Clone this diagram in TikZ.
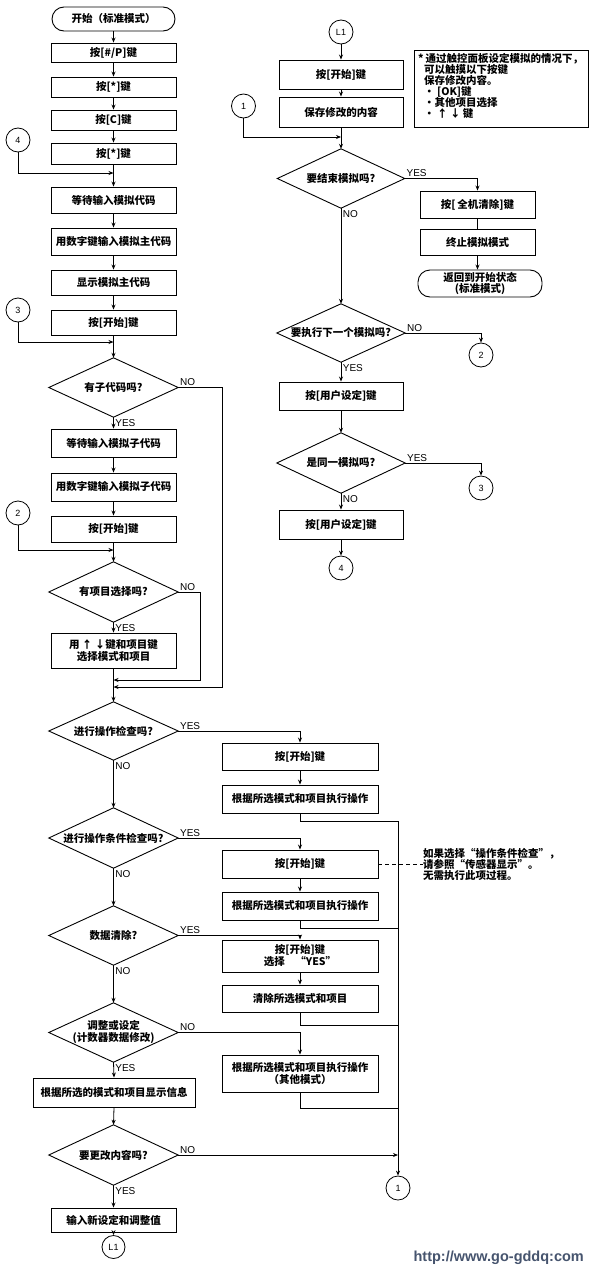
\documentclass[tikz,border=0pt]{standalone}
\usepackage{fontspec}
\newfontfamily\cjk{Noto Sans CJK SC}
\newfontfamily\lat{Liberation Sans}
\usetikzlibrary{arrows.meta,calc}
\definecolor{wmcol}{RGB}{70,84,110}
\newcommand\drawdia[1]{\draw[line width=0.9pt] (#1.north) -- (#1.east) -- (#1.south) -- (#1.west) -- cycle;}
\tikzset{
  ln/.style={line width=0.8pt},
  arr/.style={ln, -{Stealth[length=5pt,width=4pt]}},
  cjkfont/.style={font=\cjk\bfseries\fontsize{10.5}{12}\selectfont},
  box/.style={draw, line width=0.9pt, rectangle, minimum width=125pt, inner sep=1pt, align=center, cjkfont},
  rbox/.style={box, minimum width=156pt},
  term/.style={box, rounded corners=12pt},
  dia/.style={rectangle, minimum width=129pt, minimum height=59pt, inner sep=0pt, align=center, cjkfont},
  circ/.style={draw, circle, line width=0.8pt, minimum size=24pt, inner sep=0pt, font=\lat\fontsize{9}{10}\selectfont},
  lab/.style={font=\lat\fontsize{10}{10}\selectfont, inner sep=1.5pt},
  notetext/.style={align=left, inner sep=0pt, font=\cjk\bfseries\fontsize{10.5}{11}\selectfont},
}
\begin{document}
\begin{tikzpicture}[x=1pt,y=-1pt]
\useasboundingbox (0,0) rectangle (590,1274);
\fill[white] (0,0) rectangle (590,1274);

% ---------------- left column ----------------
\node[term, minimum width=123pt, minimum height=24pt] (start) at (113.5,19) {开始（标准模式）};
\node[box, minimum height=19pt] (b1) at (113.5,52.5) {按[\#/P]键};
\node[box, minimum height=20pt] (b2) at (113.5,87) {按[*]键};
\node[box, minimum height=20pt] (b3) at (113.5,120) {按[C]键};
\node[box, minimum height=21pt] (b4) at (113.5,153.5) {按[*]键};
\node[circ] (c4L) at (18,140) {4};
\coordinate (j4) at (113.5,173);
\node[box, minimum height=26pt] (b5) at (113.5,200) {等待输入模拟代码};
\node[box, minimum height=27pt] (b6) at (113.5,241.5) {用数字键输入模拟主代码};
\node[box, minimum height=25pt] (b7) at (113.5,282.5) {显示模拟主代码};
\node[circ] (c3L) at (18,310) {3};
\node[box, minimum height=25pt] (b8) at (113.5,322.5) {按[开始]键};
\coordinate (j3) at (113.5,342);
\node[dia] (d1) at (113.5,387.5) {有子代码吗?};
\node[box, minimum height=28pt] (b9) at (113.5,443) {等待输入模拟子代码};
\node[box, minimum height=28pt] (b10) at (113.5,487) {用数字键输入模拟子代码};
\node[circ] (c2L) at (18,513) {2};
\node[box, minimum height=26pt] (b11) at (113.5,529) {按[开始]键};
\coordinate (j2) at (113.5,550);
\node[dia, minimum height=60pt] (d2) at (113.5,592) {有项目选择吗?};
\node[box, minimum height=35pt] (b12) at (113.5,650.5) {用 ↑ ↓键和项目键\\选择模式和项目};
\coordinate (m680) at (113.5,680);
\coordinate (m687) at (113.5,687);
\coordinate (k1) at (222,687);
\coordinate (k2) at (200,680);
\node[dia, minimum height=58pt] (d3) at (113.5,731) {进行操作检查吗?};
\node[dia, minimum height=60pt] (d4) at (113.5,838) {进行操作条件检查吗?};
\node[dia] (d5) at (113.5,935.5) {数据清除?};
\node[dia] (d6) at (113.5,1032.5) {调整或设定\\(计数器数据修改)};
\node[box, minimum width=162pt, minimum height=29pt] (b13) at (114,1092.5) {根据所选的模式和项目显示信息};
\node[dia, minimum height=60pt] (d7) at (113.5,1155) {要更改内容吗?};
\node[box, minimum height=24pt] (b14) at (113.5,1220) {输入新设定和调整值};
\node[circ, minimum size=23pt] (L1b) at (113.5,1247) {L1};

\foreach \d in {d1,d2,d3,d4,d5,d6,d7} {\drawdia{\d}}

% ---------------- right operation column ----------------
\node[rbox, minimum height=27pt] (r1) at (300,756.5) {按[开始]键};
\node[rbox, minimum height=28pt] (r2) at (300,799) {根据所选模式和项目执行操作};
\node[rbox, minimum height=28pt] (r3) at (300,864) {按[开始]键};
\node[rbox, minimum height=28pt] (r4) at (300,906) {根据所选模式和项目执行操作};
\node[rbox, minimum height=32pt] (r5) at (300,956) {按[开始]键\\选择\quad“YES”};
\node[rbox, minimum height=27pt] (r6) at (300,998.5) {清除所选模式和项目};
\node[rbox, minimum height=37pt] (r7) at (300,1073.5) {根据所选模式和项目执行操作\\（其他模式）};
\node[circ] (c1B) at (398,1188) {1};
\coordinate (f1) at (398,821);
\coordinate (f2) at (398,928);
\coordinate (f3) at (398,1025);
\coordinate (f4) at (398,1108);
\coordinate (f5) at (398,1155);
\node[notetext, anchor=west] (note2) at (423,864) {如果选择“操作条件检查”，\\请参照“传感器显示”。\\无需执行此项过程。};

% ---------------- right top column ----------------
\node[circ] (L1t) at (341,32) {L1};
\node[box, minimum width=124pt, minimum height=29pt] (t1) at (341,74.5) {按[开始]键};
\node[box, minimum width=124pt, minimum height=30pt] (t2) at (341,112) {保存修改的内容};
\node[circ] (c1T) at (243.5,106) {1};
\coordinate (jt) at (341,137);
\node[dia, minimum width=127pt] (d8) at (341,178.5) {要结束模拟吗?};
\node[box, minimum width=115pt, minimum height=27pt] (t3) at (477.5,204.5) {按[\,全机清除]键};
\node[box, minimum width=115pt, minimum height=26pt] (t4) at (477.5,242) {终止模拟模式};
\node[term, minimum width=124pt, minimum height=27pt, inner sep=0.5pt, font=\cjk\bfseries\fontsize{10.5}{11}\selectfont] (t5) at (480,283.5) {返回到开始状态\\(标准模式)};
\node[dia, minimum width=128pt, minimum height=58pt] (d9) at (341,333) {要执行下一个模拟吗?};
\node[circ] (c2R) at (481,355) {2};
\node[box, minimum width=124pt, minimum height=28pt] (t6) at (341,396) {按[用户设定]键};
\node[dia, minimum width=128pt, minimum height=60pt] (d10) at (341,463) {是同一模拟吗?};
\node[circ] (c3R) at (481,488) {3};
\node[box, minimum width=124pt, minimum height=29pt] (t7) at (341,524.5) {按[用户设定]键};
\node[circ] (c4R) at (341,568) {4};
\foreach \d in {d8,d9,d10} {\drawdia{\d}}

\node[draw, line width=0.9pt, minimum width=174pt, minimum height=77pt, anchor=north west, inner sep=0pt] (note1) at (414,50) {};
\node[notetext, anchor=north west] (note1t) at (418,53) {*\,通过触控面板设定模拟的情况下，\\
\hspace*{6pt}可以触摸以下按键\\
\hspace*{6pt}保存修改内容。\\
\hspace*{6pt}• [OK]键\\
\hspace*{6pt}•其他项目选择\\
\hspace*{6pt}• ↑ ↓ 键};

\node[font=\lat\bfseries\fontsize{14.5}{15}\selectfont, text=wmcol, anchor=east, inner sep=0pt] (wm) at (584,1258) {http://www.go-gddq:com};

% ---------------- connectors: left ----------------
\draw[arr] (start.south) -- (b1.north);
\draw[arr] (b1.south) -- (b2.north);
\draw[arr] (b2.south) -- (b3.north);
\draw[arr] (b3.south) -- (b4.north);
\draw[arr] (c4L.south) |- (j4);
\draw[arr] (b4.south) -- (b5.north);
\draw[arr] (b5.south) -- (b6.north);
\draw[arr] (b6.south) -- (b7.north);
\draw[arr] (b7.south) -- (b8.north);
\draw[arr] (c3L.south) |- (j3);
\draw[arr] (b8.south) -- (d1.north);
\draw[arr] (d1.south) node[lab, below right]{YES} -- (b9.north);
\draw[arr] (d1.east) node[lab, above right]{NO} -| (k1) -- (m687);
\draw[arr] (b9.south) -- (b10.north);
\draw[arr] (b10.south) -- (b11.north);
\draw[arr] (c2L.south) |- (j2);
\draw[arr] (b11.south) -- (d2.north);
\draw[arr] (d2.south) node[lab, below right]{YES} -- (b12.north);
\draw[arr] (d2.east) node[lab, above right]{NO} -| (k2) -- (m680);
\draw[arr] (b12.south) -- (d3.north);
\draw[arr] (d3.east) node[lab, above right]{YES} -| (r1.north);
\draw[arr] (d3.south) node[lab, below right]{NO} -- (d4.north);
\draw[arr] (d4.east) node[lab, above right]{YES} -| (r3.north);
\draw[arr] (d4.south) node[lab, below right]{NO} -- (d5.north);
\draw[arr] (d5.east) node[lab, above right]{YES} -| (r5.north);
\draw[arr] (d5.south) node[lab, below right]{NO} -- (d6.north);
\draw[arr] (d6.east) node[lab, above right]{NO} -| (r7.north);
\draw[arr] (d6.south) node[lab, below right]{YES} -- (b13.north);
\draw[arr] (b13.south) -- (d7.north);
\draw[arr] (d7.east) node[lab, above right]{NO} -- (f5);
\draw[arr] (d7.south) node[lab, below right]{YES} -- (b14.north);
\draw[arr] (b14.south) -- (L1b.north);

% right operation column
\draw[arr] (r1.south) -- (r2.north);
\draw[arr] (r3.south) -- (r4.north);
\draw[arr] (r5.south) -- (r6.north);
\draw[ln] (r2.south) |- (f1);
\draw[ln] (r4.south) |- (f2);
\draw[ln] (r6.south) |- (f3);
\draw[ln] (r7.south) |- (f4);
\draw[arr] (f1) -- (c1B.north);
\draw[ln, dashed, dash pattern=on 4pt off 3pt] (r3.east) -- (note2.west);

% right top column
\draw[arr] (L1t.south) -- (t1.north);
\draw[arr] (t1.south) -- (t2.north);
\draw[arr] (c1T.south) |- (jt);
\draw[arr] (t2.south) -- (d8.north);
\draw[arr] (d8.east) node[lab, above right]{YES} -| (t3.north);
\draw[ln] (t3.south) -- (t4.north);
\draw[arr] (t4.south) -- (t4.south |- t5.north);
\draw[arr] (d8.south) node[lab, below right]{NO} -- (d9.north);
\draw[arr] (d9.east) node[lab, above right]{NO} -| (c2R.north);
\draw[arr] (d9.south) node[lab, below right]{YES} -- (t6.north);
\draw[arr] (t6.south) -- (d10.north);
\draw[arr] (d10.east) node[lab, above right]{YES} -| (c3R.north);
\draw[arr] (d10.south) node[lab, below right]{NO} -- (t7.north);
\draw[arr] (t7.south) -- (c4R.north);
\end{tikzpicture}
\end{document}
